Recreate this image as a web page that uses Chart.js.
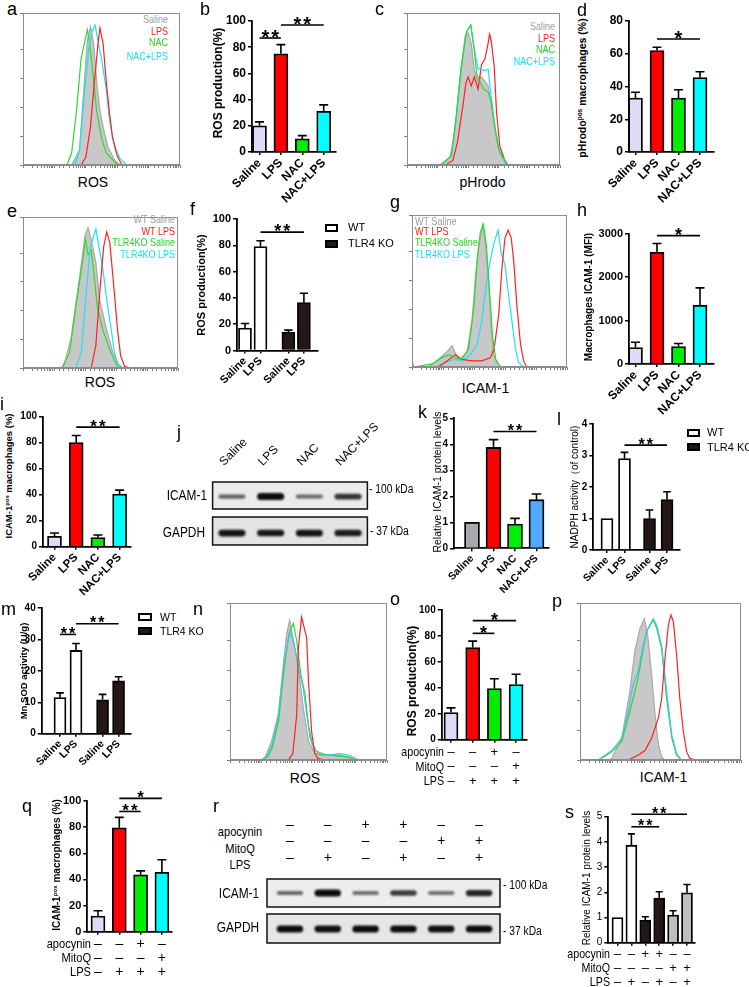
<!DOCTYPE html>
<html>
<head>
<meta charset="utf-8">
<script src="https://cdn.jsdelivr.net/npm/chart.js@4.4.1/dist/chart.umd.min.js"></script>
<style>
html, body { margin: 0; padding: 0; background: #fff; }
#fig { position: relative; width: 749px; height: 987px; overflow: hidden; font-family: "Liberation Sans", Arial, sans-serif; }
#fig canvas { position: absolute; }
.t { position: absolute; white-space: nowrap; line-height: 1; }
.v { position: absolute; white-space: nowrap; line-height: 1; transform: translate(-50%, -50%) rotate(-90deg); }
.v sup { font-size: 0.62em; vertical-align: 0.55em; line-height: 0; }
.box { position: absolute; box-sizing: border-box; border: 2px solid #000; }
</style>
</head>
<body>
<div id="fig"></div>
<script>
// ---- categories / labels
const grp4 = ['Saline', 'LPS', 'NAC', 'NAC+LPS'];
const grpKo = ['Saline', 'LPS', 'Saline', 'LPS'];
const koNames = ['WT', 'TLR4 KO'];
const histA = ['Saline', 'LPS', 'NAC', 'NAC+LPS'];
const histE = ['WT Saline', 'WT LPS', 'TLR4KO Saline', 'TLR4KO LPS'];
const treatRows = ['apocynin', 'MitoQ', 'LPS'];
const apo4 = ['–', '–', '+', '–'], mito4 = ['–', '–', '–', '+'], lps4 = ['–', '+', '+', '+'];
const apo6 = ['–', '–', '+', '+', '–', '–'], mito6 = ['–', '–', '–', '–', '+', '+'], lps6 = ['–', '+', '–', '+', '–', '+'];

// ---- bar values (mean, SEM)
const bVals = [20, 75, 10, 31], bErr = [3, 7, 2.5, 5];
const dVals = [33, 62, 33, 45.5], dErr = [3.5, 2, 5, 3.5];
const fWt = [17, 79], fWtErr = [3.5, 4.5], fKo = [14, 36.5], fKoErr = [1.5, 7];
const hVals = [380, 2570, 400, 1350], hErr = [120, 200, 70, 400];
const iVals = [8, 80, 7, 40.5], iErr = [2.5, 5.5, 2, 3];
const kVals = [1, 3.88, 0.93, 1.87], kErr = [0, 0.3, 0.22, 0.22];
const lWt = [1, 2.9], lWtErr = [0, 0.2], lKo = [1, 1.6], lKoErr = [0.27, 0.25];
const mWt = [11.5, 26.5], mWtErr = [1.5, 2.2], mKo = [10.8, 16.8], mKoErr = [1.7, 1.3];
const oVals = [21, 71, 39.5, 42.5], oErr = [3.5, 5, 7.5, 8];
const qVals = [12, 79.5, 43.5, 45.5], qErr = [4, 8, 3, 9.5];
const sVals = [1, 3.87, 0.9, 1.77, 1.1, 1.98], sErr = [0, 0.45, 0.13, 0.25, 0.17, 0.33];

// significance brackets: [from bar, to bar, height, label]
const bSig = [[0, 1, 87, '**'], [1, 3, 97, '**']];
const dSig = [[1, 3, 69, '*']];
const fSig = [[1, 3, 90, '**']];
const hSig = [[1, 3, 2950, '*']];
const iSig = [[1, 3, 92, '**']];
const kSig = [[1, 3, 4.49, '**']];
const lSig = [[1, 3, 3.33, '**']];
const mSig = [[0, 1, 31.6, '**'], [1, 3, 35, '**']];
const oSig = [[1, 2, 82, '*'], [1, 3, 91.8, '*']];
const qSig = [[1, 2, 92, '**'], [1, 3, 102, '*']];
const sSig = [[1, 3, 4.6, '**'], [1, 5, 5.1, '**']];

// ---- flow histograms: [x % of axis, count % of axis height]
const aSaline = [[0,0],[31,0],[36,10],[39,54],[41,82],[43,91],[45,80],[47,54],[49,36],[51,25],[54,12],[58.5,3],[62,0],[100,0]];
const aLps = [[0,0],[37,0],[40,5],[43,25],[45.5,55],[48,82],[49,90],[51,80],[53,55],[55,35],[57,18],[60,6],[63,0],[100,0]];
const aNac = [[0,0],[28,0],[31,8],[34,35],[37,70],[41,89],[42.5,80],[45,55],[47,35],[50,18],[53,8],[58.5,2],[61,0],[100,0]];
const aNacLps = [[0,0],[33,0],[36,10],[39,45],[42,78],[44,88],[46,92],[48,80],[50,70],[53,50],[55,30],[58.5,12],[62,4],[66,0],[100,0]];

const cSaline = [[0,0],[22,0],[28,5],[31,20],[34.5,55],[38,85],[40,87],[42,80],[44,62],[46.5,55],[48.5,58],[51,55],[53,52],[55,40],[57.5,22],[60,10],[63,4],[66,0],[100,0]];
const cLps = [[0,0],[25,0],[30,3],[33,15],[36.7,40],[38.5,54],[40,58],[42,52],[44,58],[46.5,50],[48.7,66],[51,70],[53,80],[54,86],[55,82],[57,65],[58.5,35],[60.7,12],[64,3],[66,0],[100,0]];
const cNac = [[0,0],[22,0],[29,6],[32,30],[35.5,65],[39,88],[41.7,92],[44,75],[45.5,60],[47.6,55],[50,50],[53,48],[55,42],[57.5,25],[60,10],[64,3],[66,0],[100,0]];
const cNacLps = [[0,0],[22,0],[29,6],[32,30],[35.5,65],[39,88],[41.7,92],[44,76],[46.5,63],[48,64],[50,62],[53,63],[55,45],[57.5,25],[60.7,8],[65,0],[100,0]];

const eWtSaline = [[0,0],[26,0],[31,20],[36.5,60],[40,88],[42,93],[44,85],[47,70],[49.5,45],[54,25],[58,10],[62,2],[64.5,0],[100,0]];
const eWtLps = [[0,0],[44,0],[47,15],[49.5,50],[52,80],[54,90],[56,83],[58.5,55],[61,25],[63,8],[65.6,1],[70,0],[100,0]];
const eKoSaline = [[0,0],[25,0],[30,10],[34,40],[37.6,65],[40.4,85],[42,75],[44,78],[46,60],[48,40],[51.6,25],[56,12],[60,3],[62,0],[100,0]];
const eKoLps = [[0,0],[34,0],[37.6,10],[40.4,45],[43.4,80],[47,92],[49,80],[51.6,65],[54,45],[57,25],[59,10],[61,3],[63.4,0],[100,0]];

const gWtSaline = [[0,0],[10.7,0],[17,5],[22.6,10],[25.8,14],[28,9],[31,5],[35.5,10],[38.7,30],[41,60],[43,80],[45.6,93],[47,85],[49.5,55],[51,25],[52.7,8],[55,2],[58,0],[100,0]];
const gWtLps = [[0,0],[17,0],[22.6,4],[28,8],[32,5],[38.7,4],[45,4],[50.5,6],[53,12],[56,35],[58,65],[60,85],[62,90],[64,85],[65.6,70],[67.7,40],[70,15],[72,4],[74,0],[100,0]];
const gKoSaline = [[0,5],[1,0],[13,2],[19,6],[23.7,8],[28,6],[32,5],[36.5,12],[40,40],[42,70],[44,88],[46,94],[48,80],[50,50],[52,20],[54,5],[57,0],[100,0]];
const gKoLps = [[0,0],[15,0],[21.5,3],[27,5],[32,4],[37.6,8],[42,15],[45,30],[48,55],[50.5,70],[53,82],[55.5,90],[57.6,75],[60,67],[62,50],[64.5,30],[66.7,12],[68.8,3],[72,0],[100,0]];

const nSaline = [[0,0],[20,0],[22,1],[26.5,12],[30.8,29],[34,61],[36,80],[38,89],[41.4,71],[44.6,50],[46.7,33],[50,12],[54,4.5],[58,3],[70,3],[77,1.5],[80,0],[100,0]];
const nLps = [[0,0],[37,0],[40,4],[42.5,29],[43.5,71],[45.6,91],[47.3,84],[48.8,78],[50,50],[52,18],[54,4],[56,1],[60,0],[100,0]];
const nApo = [[0,0],[20,0],[24,2],[27,8],[31,25],[34.5,58],[37.5,80],[40.3,87],[42.5,76],[45,55],[47.8,42],[50,22],[52.5,10],[56,4],[65,3],[75,2],[80,0],[100,0]];
const nMito = [[0,0],[20,0],[24,3],[27,10],[31,30],[34.5,62],[38.2,82],[40.3,75],[42.5,66],[44.5,55],[46.7,45],[49,28],[51,14],[54,6],[62,3],[70,4],[76,3],[82,0],[100,0]];

const pSaline = [[0,0],[18,0],[19.7,1],[26,14],[31,44],[34,69],[37.3,84],[40,90],[42,80],[44.5,54],[46.6,29],[48.7,10],[50.7,2],[52.8,0],[100,0]];
const pLps = [[0,0],[30,0],[36,3],[40.4,6],[44.5,14],[48.7,27],[50.7,39],[52.8,65],[54.9,86],[56.5,92.5],[58,88],[60,67],[62,39],[64.2,18],[66.3,5],[68.3,1],[71.4,0],[100,0]];
const pApo = [[0,0],[11.4,0],[19.7,5],[26,12],[30,27],[33,39],[36,52],[39.3,71],[41.4,82],[45.5,89],[47.6,84],[50.7,71],[53.8,39],[57,14],[60,3],[63,0],[100,0]];
const pMito = [[0,0],[11.4,0],[19.7,6],[26,14],[30,31],[33,48],[36,56],[39.3,73],[41.4,82],[45.5,90],[47.6,86],[50.7,73],[53.8,44],[57,16],[60,4],[63,0],[100,0]];

// ---- western blot band strength (0..1)
const jIcam = [0.45, 1.0, 0.4, 0.75], jGapdh = [0.95, 0.92, 0.95, 0.9];
const rIcam = [0.42, 1.0, 0.38, 0.7, 0.36, 0.85], rGapdh = [1, 0.98, 1, 1, 0.98, 1];

// ---- colours
const c4 = ['#dcdcf7', '#ff0000', '#00ee00', '#00ffff'];
const cK = ['#a7a7ad', '#ff0000', '#00ee00', '#4ea9ff'];
const cS = ['#ffffff', '#ffffff', '#231815', '#231815', '#bebebe', '#bebebe'];
const WT = '#ffffff', KO = '#231815';
const hGray = '#c8c8c8', hRed = '#ff2020', hGreen = '#33d633', hCyan = '#1ee3f2', hBlue = '#3cc3ee';
const SANS = '"Liberation Sans", Arial, sans-serif';

Chart.defaults.font.family = SANS;
Chart.defaults.color = '#000';
const fig = document.getElementById('fig');

function canvasAt(l, t, w, h) {
  const c = document.createElement('canvas');
  c.width = w; c.height = h;
  c.style.left = l + 'px'; c.style.top = t + 'px';
  c.style.width = w + 'px'; c.style.height = h + 'px';
  fig.appendChild(c);
  return c;
}

// text placed by its baseline; "nar" squeezes it like the condensed face in the figure
function txt(s, x, yb, size, o = {}) {
  const d = document.createElement('div');
  d.className = 't';
  d.textContent = s;
  d.style.fontSize = size + 'px';
  d.style.left = x + 'px';
  d.style.top = (yb - 0.85 * size) + 'px';
  if (o.weight) d.style.fontWeight = o.weight;
  if (o.color) d.style.color = o.color;
  const al = o.align || 'left';
  const sq = o.nar ? ' scaleX(0.82)' : '';
  d.style.transformOrigin = al === 'right' ? '100% 50%' : al === 'center' ? '50% 50%' : '0 50%';
  if (al === 'right') d.style.transform = 'translateX(-100%)' + sq;
  else if (al === 'center') d.style.transform = 'translateX(-50%)' + sq;
  else if (sq) d.style.transform = sq;
  fig.appendChild(d);
}

function vtxt(html, cx, cy, size, weight) {
  const d = document.createElement('div');
  d.className = 'v';
  d.innerHTML = html;
  d.style.fontSize = size + 'px';
  d.style.fontWeight = weight;
  d.style.left = cx + 'px';
  d.style.top = cy + 'px';
  fig.appendChild(d);
}

function keyBox(x, y, w, h, fill) {
  const d = document.createElement('div');
  d.className = 'box';
  d.style.cssText += `left:${x}px;top:${y}px;width:${w}px;height:${h}px;background:${fill}`;
  fig.appendChild(d);
}

// error bars and significance brackets
const marks = {
  id: 'marks',
  afterDatasetsDraw(chart) {
    const m = chart.canvas.marks;
    const { ctx, scales: { x, y } } = chart;
    ctx.save();
    ctx.strokeStyle = '#000';
    ctx.fillStyle = '#000';
    ctx.lineWidth = 1.6;
    chart.data.datasets.forEach((ds, di) => {
      chart.getDatasetMeta(di).data.forEach((bar, j) => {
        const e = ds.errors[j];
        if (!e) return;
        const yt = y.getPixelForValue(ds.data[j].y + e);
        const cw = bar.width * 0.32;
        ctx.beginPath();
        ctx.moveTo(bar.x, bar.y);
        ctx.lineTo(bar.x, yt);
        ctx.moveTo(bar.x - cw, yt);
        ctx.lineTo(bar.x + cw, yt);
        ctx.stroke();
      });
    });
    ctx.font = `bold ${m.star}px ${SANS}`;
    ctx.textAlign = 'center';
    ctx.letterSpacing = '2px';
    m.sig.forEach(([a, b, v, t]) => {
      const x0 = x.getPixelForValue(a), x1 = x.getPixelForValue(b), yy = y.getPixelForValue(v);
      ctx.beginPath();
      ctx.moveTo(x0, yy);
      ctx.lineTo(x1, yy);
      ctx.stroke();
      ctx.fillText(t, (x0 + x1) / 2 + 1, yy - 2 + 0.4 * m.star);
    });
    ctx.restore();
  }
};

const frame = {
  id: 'frame',
  afterDraw(chart) {
    const { ctx, chartArea: a } = chart;
    ctx.save();
    ctx.strokeStyle = '#8c8c8c';
    ctx.lineWidth = 1;
    ctx.strokeRect(a.left + 0.5, a.top + 0.5, a.width - 1, a.height - 1);
    ctx.restore();
  }
};

const blotDraw = {
  id: 'blotDraw',
  afterDraw(chart) {
    const b = chart.canvas.blot;
    const { ctx, chartArea: a, scales: { x } } = chart;
    const lane = (a.right - a.left) / b.n;
    ctx.save();
    b.strips.forEach(st => {
      const x0 = a.left - b.padL, x1 = a.right + b.padR;
      const y0 = a.top + st.y0, y1 = a.top + st.y1;
      ctx.fillStyle = st.bg;
      ctx.fillRect(x0, y0, x1 - x0, y1 - y0);
      ctx.filter = 'blur(1.1px)';
      st.bands.forEach((k, i) => {
        const cx = x.getPixelForValue(i);
        const bh = 2 + 5 * k, bw = lane * 0.7;
        ctx.fillStyle = `rgba(12,12,12,${0.3 + 0.7 * k})`;
        ctx.beginPath();
        if (ctx.roundRect) ctx.roundRect(cx - bw / 2, y0 + st.cy - bh / 2, bw, bh, bh / 2);
        else ctx.ellipse(cx, y0 + st.cy, bw / 2, bh / 2, 0, 0, Math.PI * 2);
        ctx.fill();
      });
      ctx.filter = 'none';
      ctx.strokeStyle = '#111';
      ctx.lineWidth = 1.5;
      ctx.strokeRect(x0, y0, x1 - x0, y1 - y0);
    });
    ctx.restore();
  }
};

function bars(g, labels, series, sig) {
  const pos = i => i + (g.gap && i >= 2 ? g.gap : 0);
  const left = Math.floor(g.L - g.yw), top = Math.floor(g.T - g.pt);
  const w = Math.ceil(g.R + g.pr - left), h = Math.ceil(g.B + g.xh - top);
  const cv = canvasAt(left, top, w, h);
  cv.marks = { sig: sig.map(([a, b, v, t]) => [pos(a), pos(b), v, t]), star: g.star };
  const yw = g.L - left, xh = h - (g.B - top);
  new Chart(cv, {
    type: 'bar',
    data: {
      datasets: series.map(s => ({
        data: s.vals.map((v, k) => ({ x: pos(s.slots ? s.slots[k] : k), y: v })),
        errors: s.errs,
        backgroundColor: s.colors,
        borderColor: '#000',
        borderWidth: 1.8,
        barThickness: g.bw,
        grouped: false
      }))
    },
    options: {
      responsive: false, animation: false, devicePixelRatio: 1,
      layout: { padding: { top: g.T - top, right: w - (g.R - left), left: 0, bottom: 0 } },
      plugins: { legend: { display: false }, tooltip: { enabled: false } },
      scales: {
        x: {
          type: 'linear', offset: false,
          min: -(g.c0 - g.L) / g.s, max: (g.R - g.c0) / g.s,
          afterBuildTicks: sc => { sc.ticks = labels.map((l, i) => ({ value: pos(i) })); },
          ticks: {
            autoSkip: false, minRotation: g.rot, maxRotation: g.rot, padding: g.xpad ?? 1, color: '#000',
            font: { size: g.xf, weight: g.xw || 'bold', lineHeight: g.lh ? g.lh + 'px' : 1.2 },
            callback: (v, i) => labels[i]
          },
          grid: { drawOnChartArea: false, tickLength: 3, color: '#000', lineWidth: 1.5, offset: false },
          border: { color: '#000', width: 1.8 },
          afterFit: sc => { sc.height = xh; sc.paddingLeft = 0; sc.paddingRight = 0; }
        },
        y: {
          min: 0, max: g.ymax,
          ticks: {
            stepSize: g.step, padding: 2, color: '#000',
            font: { size: g.yf, weight: g.yweight || 'bold' },
            callback: v => String(v)
          },
          grid: { drawOnChartArea: false, tickLength: 4, color: '#000', lineWidth: 1.5 },
          border: { color: '#000', width: 1.8 },
          afterFit: sc => { sc.width = yw; sc.paddingTop = 0; sc.paddingBottom = 0; }
        }
      }
    },
    plugins: [marks]
  });
}

function hist(g, curves) {
  const left = g.L - 5, top = g.T - 2;
  const cv = canvasAt(left, top, g.R - left + 3, g.B - top + 5);
  new Chart(cv, {
    type: 'line',
    data: {
      datasets: curves.map((c, i) => ({
        xAxisID: 'x',
        data: c.pts.map(([x, y]) => ({ x, y })),
        borderColor: c.color, borderWidth: 1.2, pointRadius: 0, tension: 0,
        fill: c.fill ? 'origin' : false, backgroundColor: c.fill || 'transparent',
        order: c.fill ? 99 : i
      }))
    },
    options: {
      responsive: false, animation: false, devicePixelRatio: 1,
      layout: { padding: { top: 2, right: 3, left: 0, bottom: 0 } },
      plugins: { legend: { display: false }, tooltip: { enabled: false } },
      scales: {
        x: { type: 'linear', display: false, min: 0, max: 100 },
        xl: {
          type: 'logarithmic', position: 'bottom', min: 1, max: 100000,
          ticks: { display: false },
          grid: { drawOnChartArea: false, tickLength: 3, color: '#7d7d7d' },
          border: { color: '#8c8c8c' },
          afterFit: sc => { sc.height = 5; sc.paddingLeft = 0; sc.paddingRight = 0; }
        },
        y: {
          min: 0, max: 100,
          ticks: { display: false, stepSize: 19 },
          grid: { drawOnChartArea: false, tickLength: 3, color: '#7d7d7d' },
          border: { color: '#8c8c8c' },
          afterFit: sc => { sc.width = 5; sc.paddingTop = 0; sc.paddingBottom = 0; }
        }
      }
    },
    plugins: [frame]
  });
}

function blot(g, labels, strips, tick) {
  const cv = canvasAt(g.cl, g.ct, g.cr - g.cl, g.cb - g.ct);
  cv.blot = { strips, padL: g.padL || 0, padR: g.padR || 0, n: labels.length };
  new Chart(cv, {
    type: 'line',
    data: { labels, datasets: [] },
    options: {
      responsive: false, animation: false, devicePixelRatio: 1,
      layout: { padding: { left: g.L - g.cl, right: g.cr - g.R, top: 0, bottom: g.cb - g.B } },
      plugins: { legend: { display: false }, tooltip: { enabled: false } },
      scales: {
        x: {
          type: 'category', position: 'top', offset: true,
          grid: { display: false }, border: { display: false },
          ticks: {
            autoSkip: false, minRotation: tick.rot, maxRotation: tick.rot, padding: tick.pad, color: '#000',
            font: { size: tick.size, lineHeight: tick.lh }
          },
          afterFit: sc => { sc.height = g.T - g.ct; sc.paddingLeft = 0; sc.paddingRight = 0; }
        },
        y: { display: false, min: 0, max: 1 }
      }
    },
    plugins: [blotDraw]
  });
}

// ================= histograms
hist({ L: 23, R: 180, T: 13, B: 165 }, [
  { pts: aLps, color: hRed }, { pts: aNacLps, color: hCyan }, { pts: aNac, color: hGreen },
  { pts: aSaline, color: '#a9a9a9', fill: hGray }]);
hist({ L: 407, R: 560, T: 13, B: 165 }, [
  { pts: cNac, color: hGreen }, { pts: cNacLps, color: hCyan }, { pts: cLps, color: hRed },
  { pts: cSaline, color: '#a9a9a9', fill: hGray }]);
hist({ L: 23, R: 178, T: 217, B: 368 }, [
  { pts: eWtLps, color: hRed }, { pts: eKoLps, color: hCyan }, { pts: eKoSaline, color: hGreen },
  { pts: eWtSaline, color: '#a9a9a9', fill: hGray }]);
hist({ L: 412, R: 567, T: 215, B: 367 }, [
  { pts: gKoSaline, color: hGreen }, { pts: gWtLps, color: hRed }, { pts: gKoLps, color: hCyan },
  { pts: gWtSaline, color: '#a9a9a9', fill: hGray }]);
hist({ L: 230, R: 387, T: 603, B: 760 }, [
  { pts: nLps, color: hRed }, { pts: nMito, color: hBlue }, { pts: nApo, color: hGreen },
  { pts: nSaline, color: '#a9a9a9', fill: hGray }]);
hist({ L: 580, R: 741, T: 603, B: 760 }, [
  { pts: pLps, color: hRed }, { pts: pMito, color: hBlue }, { pts: pApo, color: hGreen },
  { pts: pSaline, color: '#a9a9a9', fill: hGray }]);

const histCols = ['#9c9c9c', '#ff1a1a', '#22d822', '#19e0f0'];
histA.forEach((s, i) => {
  txt(s, 168, [23.3, 35.7, 46.7, 60][i], 11, { nar: true, align: 'right', color: histCols[i] });
  txt(s, 555, [30, 42.3, 53.3, 65][i], 11, { nar: true, align: 'right', color: histCols[i] });
});
histE.forEach((s, i) => {
  txt(s, 175, [223.3, 235, 246, 258.3][i], 11, { nar: true, align: 'right', color: histCols[i] });
  txt(s, 415, [225, 235.7, 246.7, 258.3][i], 11, { nar: true, color: histCols[i] });
});
txt('ROS', 93, 187, 14, { align: 'center' });
txt('pHrodo', 482.5, 187, 14, { align: 'center' });
txt('ROS', 100, 387, 14, { align: 'center' });
txt('ICAM-1', 485.5, 393, 14, { align: 'center' });
txt('ROS', 305, 783, 14, { align: 'center' });
txt('ICAM-1', 663.5, 782, 14, { align: 'center' });

// ================= bar charts
bars({ L: 252, R: 336, T: 21, B: 152, c0: 259.5, s: 21.4, yw: 32, xh: 60, pt: 14, pr: 4, bw: 14, star: 20, ymax: 100, step: 20, yf: 12, xf: 12, rot: 45 },
  grp4, [{ vals: bVals, errs: bErr, colors: c4 }], bSig);
bars({ L: 629, R: 714, T: 21, B: 152, c0: 635.5, s: 21.5, yw: 30, xh: 60, pt: 14, pr: 4, bw: 14, star: 20, ymax: 80, step: 20, yf: 12, xf: 12, rot: 45 },
  grp4, [{ vals: dVals, errs: dErr, colors: c4 }], dSig);
bars({ L: 237, R: 318, T: 219, B: 350.5, c0: 245, s: 15.5, gap: 0.8, yw: 28, xh: 55, pt: 14, pr: 3, bw: 13, star: 18, ymax: 100, step: 20, yf: 11, xf: 11, rot: 45 },
  grpKo, [{ vals: fWt, errs: fWtErr, colors: WT, slots: [0, 1] }, { vals: fKo, errs: fKoErr, colors: KO, slots: [2, 3] }], fSig);
bars({ L: 629, R: 714, T: 233.5, B: 364, c0: 635.5, s: 21.5, yw: 36, xh: 60, pt: 14, pr: 4, bw: 14, star: 18, ymax: 3000, step: 1000, yf: 11, xf: 12, rot: 45 },
  grp4, [{ vals: hVals, errs: hErr, colors: c4 }], hSig);
bars({ L: 43, R: 131, T: 416.7, B: 546.7, c0: 54.5, s: 21.7, yw: 25, xh: 60, pt: 12, pr: 4, bw: 14, star: 17, ymax: 100, step: 20, yf: 10, xf: 11.5, rot: 45 },
  grp4, [{ vals: iVals, errs: iErr, colors: c4 }], iSig);
bars({ L: 454, R: 549, T: 418.3, B: 548.3, c0: 472, s: 21.5, yw: 14, xh: 60, pt: 12, pr: 4, bw: 15, star: 16, ymax: 5, step: 1, yf: 10, xf: 10.5, rot: 45 },
  grp4, [{ vals: kVals, errs: kErr, colors: cK }], kSig);
bars({ L: 593.3, R: 680, T: 424, B: 550, c0: 607, s: 17.5, gap: 0.43, yw: 14, xh: 50, pt: 12, pr: 4, bw: 12, star: 16, ymax: 4, step: 1, yf: 10, xf: 10.5, rot: 45 },
  grpKo, [{ vals: lWt, errs: lWtErr, colors: WT, slots: [0, 1] }, { vals: lKo, errs: lKoErr, colors: KO, slots: [2, 3] }], lSig);
bars({ L: 41.7, R: 131, T: 608, B: 733.7, c0: 60, s: 16, gap: 0.66, yw: 22, xh: 50, pt: 12, pr: 4, bw: 12, star: 16, ymax: 40, step: 10, yf: 10, xf: 10.5, rot: 45 },
  grpKo, [{ vals: mWt, errs: mWtErr, colors: WT, slots: [0, 1] }, { vals: mKo, errs: mKoErr, colors: KO, slots: [2, 3] }], mSig);
bars({ L: 441.7, R: 527, T: 610, B: 739.7, c0: 451, s: 21.7, yw: 30, xh: 52, pt: 14, pr: 4, bw: 14, star: 18, ymax: 100, step: 20, yf: 10, xf: 13, xw: 'normal', lh: 14.5, xpad: 2, rot: 0 },
  apo4.map((a, i) => [a, mito4[i], lps4[i]]), [{ vals: oVals, errs: oErr, colors: c4 }], oSig);
bars({ L: 87.3, R: 172, T: 801, B: 931.7, c0: 98, s: 21.3, yw: 30, xh: 50, pt: 16, pr: 4, bw: 14, star: 17, ymax: 100, step: 20, yf: 11, xf: 14, xw: 'normal', lh: 13.9, xpad: 2.6, rot: 0 },
  apo4.map((a, i) => [a, mito4[i], lps4[i]]), [{ vals: qVals, errs: qErr, colors: c4 }], qSig);
bars({ L: 608.3, R: 695, T: 816.7, B: 942.7, c0: 617.5, s: 13.9, yw: 14, xh: 45, pt: 14, pr: 4, bw: 11, star: 16, ymax: 5, step: 1, yf: 10, yweight: 'normal', xf: 13, xw: 'normal', lh: 13.85, xpad: 1.7, rot: 0 },
  apo6.map((a, i) => [a, mito6[i], lps6[i]]), [{ vals: sVals, errs: sErr, colors: cS }], sSig);

// y-axis titles
vtxt('ROS production(%)', 218, 82.5, 12, 'bold');
vtxt('pHrodo<sup>pos</sup> macrophages (%)', 582, 87.5, 10.5, 'bold');
vtxt('ROS production(%)', 201, 285, 11, 'bold');
vtxt('Macrophages ICAM-1 (MFI)', 589, 297, 10, 'bold');
vtxt('ICAM-1<sup>pos</sup> macrophages (%)', 9, 476, 9.5, 'bold');
vtxt('Relative ICAM-1 protein levels', 437, 482, 10.5, 'normal');
vtxt('NADPH activity（of control)', 575, 487, 10, 'normal');
vtxt('Mn SOD activity (U/g)', 24, 671, 9.5, 'bold');
vtxt('ROS production(%)', 412, 681, 12, 'bold');
vtxt('ICAM-1<sup>pos</sup> macrophages (%)', 57, 865, 10, 'bold');
vtxt('Relative ICAM-1 protein levels', 587, 878, 10, 'normal');

// WT / TLR4 KO keys
[[325, 224, 13, 348, [231.5, 247.5], 11, 16], [687, 429, 13, 707, [436.5, 451], 11, 14], [138, 613, 14, 160, [620.5, 634.5], 10.5, 14]]
  .forEach(([bx, by, bw, tx, tys, fs, dy]) => {
    keyBox(bx, by, bw, 8, WT);
    keyBox(bx, by + dy, bw, 8, KO);
    koNames.forEach((n, i) => txt(n, tx, tys[i], fs));
  });

// treatment rows under o, q, s and above r
treatRows.forEach((r, i) => {
  txt(r, 444, [756.5, 771, 785.5][i], 13, { nar: true, align: 'right' });
  txt(r, 91, [948.5, 962.5, 976.5][i], 13.5, { nar: true, align: 'right' });
  txt(r, 610, [958.5, 972.5, 986.5][i], 13, { nar: true, align: 'right' });
  txt(r, 240, [836.7, 853, 869][i], 13.5, { nar: true, align: 'center' });
});

// ================= western blots
blot({ cl: 200, ct: 420, cr: 400, cb: 550, L: 212.6, R: 367.4, T: 482, B: 545 }, grp4,
  [{ y0: 0, y1: 27, bg: '#ebebeb', cy: 14.5, bands: jIcam }, { y0: 35, y1: 63, bg: '#e4e4e4', cy: 16, bands: jGapdh }],
  { rot: 45, pad: 5, size: 12, lh: 1.2 });
blot({ cl: 262, ct: 815, cr: 505, cb: 948, L: 271, R: 498, T: 879, B: 943, padL: 4, padR: 2 },
  apo6.map((a, i) => [a, mito6[i], lps6[i]]),
  [{ y0: 0, y1: 28, bg: '#ededed', cy: 14, bands: rIcam }, { y0: 35, y1: 64, bg: '#e6e6e6', cy: 15, bands: rGapdh }],
  { rot: 0, pad: 4.75, size: 14, lh: '16.5px' });
txt('ICAM-1', 207, 500, 14.5, { nar: true, align: 'right' });
txt('GAPDH', 205, 537, 14.5, { nar: true, align: 'right' });
txt('- 100 kDa', 369, 494, 12.5, { nar: true });
txt('- 37 kDa', 370, 536, 12.5, { nar: true });
txt('ICAM-1', 239, 898, 14.5, { nar: true, align: 'center' });
txt('GAPDH', 238, 932, 14.5, { nar: true, align: 'center' });
txt('- 100 kDa', 503, 890, 12.5, { nar: true });
txt('- 37 kDa', 503, 936, 12.5, { nar: true });

// panel letters
[['a', 7, 15], ['b', 200, 15], ['c', 375, 15], ['d', 577, 16.5], ['e', 7, 217], ['f', 190, 215],
 ['g', 390, 208], ['h', 577, 216.7], ['i', 0, 410], ['j', 177, 438], ['k', 418, 418], ['l', 557, 425],
 ['m', 1, 615], ['n', 193, 615], ['o', 390, 605], ['p', 552, 607], ['q', 22, 812], ['r', 213, 812], ['s', 565, 818]]
  .forEach(([c, x, y]) => txt(c, x, y, 18));
</script>
</body>
</html>
